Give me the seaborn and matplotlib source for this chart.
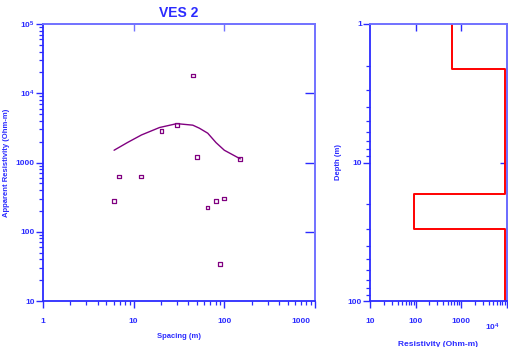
import matplotlib
matplotlib.use("Agg")
import matplotlib.pyplot as plt
import matplotlib.ticker as mticker
import matplotlib.transforms as mtrans
import seaborn as sns
import numpy as np

# ---- data ----
spacing = [6.08, 6.89, 12.0, 20.2, 29.9, 44.9, 50.1, 65.0, 80.3, 89.7, 100.0, 150.0]
app_res = [279, 626, 626, 2857, 3491, 17950, 1191, 223, 279, 34, 301, 1128]

model_spacing = [6.08, 8.5, 12.2, 19.3, 29.9, 44.9, 53.1, 65.6, 81.0, 100.0, 150.0]
model_res = [1503, 1936, 2500, 3200, 3640, 3460, 3126, 2650, 1936, 1503, 1128]

layer_res = [630, 9000, 93, 9000]
layer_bounds = [1.0, 2.12, 16.9, 30.4, 100.0]

left_xticks = [1, 10, 100, 1000]
left_yticks = [10, 100, 1000, 1e4, 1e5]
right_xticks = [10, 100, 1000, 1e4]
right_yticks = [1, 10, 100]

sns.set_theme(style="white")
plt.rcParams['font.family'] = ['Liberation Sans', 'DejaVu Sans']
plt.rcParams['mathtext.fontset'] = 'custom'
plt.rcParams['mathtext.rm'] = 'Liberation Sans:bold'
plt.rcParams['mathtext.bf'] = 'Liberation Sans:bold'

BLUE = '#2b2bff'
LBLUE = '#7373ff'
PURPLE = '#800080'

fig = plt.figure(figsize=(5.08, 3.47), dpi=100)
W, H = 508, 347
ax1 = fig.add_axes([43 / W, 1 - 301 / H, 272 / W, 277 / H])
ax2 = fig.add_axes([370.3 / W, 1 - 301 / H, 136.4 / W, 277 / H])


def fmt_pow(v, pos=None):
    if v >= 1e4:
        e = int(round(np.log10(v)))
        return r"$\mathbf{10^{%d}}$" % e
    return "%d" % v


def style_axes(ax):
    for s in ['left', 'bottom']:
        ax.spines[s].set_color(BLUE)
        ax.spines[s].set_linewidth(1.3)
    for s in ['top', 'right']:
        ax.spines[s].set_color(LBLUE)
        ax.spines[s].set_linewidth(1.3)
    ax.tick_params(which='major', direction='out', length=5, width=1.0,
                   color=BLUE, labelcolor=BLUE, labelsize=6, left=True, bottom=True)
    ax.tick_params(which='minor', direction='out', length=2.8, width=0.9,
                   color=BLUE, left=True, bottom=True)
    ax.tick_params(axis='x', which='major', pad=7)
    ax.tick_params(axis='y', which='major', pad=1)
    for lab in ax.get_xticklabels() + ax.get_yticklabels():
        lab.set_fontweight('bold')
    ax.grid(False)


def shift_label(ax, idx, dx, dy):
    labs = ax.get_xticklabels()
    lab = labs[idx]
    lab.set_transform(lab.get_transform() +
                      mtrans.ScaledTranslation(dx / 100, dy / 100, fig.dpi_scale_trans))


# ---- left: sounding curve ----
sns.lineplot(x=model_spacing, y=model_res, ax=ax1, color=PURPLE, lw=1.0,
             sort=False, estimator=None)
sns.scatterplot(x=spacing, y=app_res, ax=ax1, marker='s', s=7,
                facecolor='none', edgecolor=PURPLE, linewidth=0.9, zorder=3)
ax1.set_xscale('log')
ax1.set_yscale('log')
ax1.set_xlim(1, 1000)
ax1.set_ylim(10, 1e5)
ax1.set_xticks(left_xticks)
ax1.set_yticks(left_yticks)
ax1.xaxis.set_major_formatter(mticker.FuncFormatter(fmt_pow))
ax1.yaxis.set_major_formatter(mticker.FuncFormatter(fmt_pow))
ax1.xaxis.set_minor_locator(mticker.LogLocator(base=10, subs=np.arange(2, 10)))
ax1.yaxis.set_minor_locator(mticker.LogLocator(base=10, subs=np.arange(2, 10)))
ax1.xaxis.set_minor_formatter(mticker.NullFormatter())
ax1.yaxis.set_minor_formatter(mticker.NullFormatter())
style_axes(ax1)
ax1.set_xlabel('Spacing (m)', fontsize=5.5, fontweight='bold', color=BLUE, labelpad=6)
ax1.set_ylabel('Apparent Resistivity (Ohm-m)', fontsize=5.5, fontweight='bold',
               color=BLUE, labelpad=4)
ax1.set_title('VES 2', fontsize=10, fontweight='bold', color=BLUE, pad=5)

sx = ax1.secondary_xaxis('top')
sx.set_xticks([10, 100])
sx.xaxis.set_minor_locator(mticker.NullLocator())
sx.tick_params(direction='in', length=5, color=LBLUE, labeltop=False, width=1.0)
sx.spines['top'].set_color(LBLUE)
sy = ax1.secondary_yaxis('right')
sy.set_yticks([100, 1000, 1e4])
sy.yaxis.set_minor_locator(mticker.NullLocator())
sy.tick_params(direction='in', length=7, color=BLUE, labelright=False, width=1.0)
sy.spines['right'].set_color(LBLUE)

# ---- right: layered model ----
xs, ys = [], []
for i, r in enumerate(layer_res):
    xs += [r, r]
    ys += [layer_bounds[i], layer_bounds[i + 1]]
sns.lineplot(x=xs, y=ys, ax=ax2, color='#ff0000', lw=1.4, sort=False, estimator=None)
ax2.set_xscale('log')
ax2.set_yscale('log')
ax2.set_xlim(10, 1e4)
ax2.set_ylim(100, 1)
ax2.set_xticks(right_xticks)
ax2.set_yticks(right_yticks)
ax2.xaxis.set_major_formatter(mticker.FuncFormatter(fmt_pow))
ax2.yaxis.set_major_formatter(mticker.FuncFormatter(fmt_pow))
ax2.xaxis.set_minor_locator(mticker.LogLocator(base=10, subs=np.arange(2, 10)))
ax2.yaxis.set_minor_locator(mticker.LogLocator(base=10, subs=np.arange(2, 10)))
ax2.xaxis.set_minor_formatter(mticker.NullFormatter())
ax2.yaxis.set_minor_formatter(mticker.NullFormatter())
style_axes(ax2)
ax2.set_xlabel('Resistivity (Ohm-m)', fontsize=6, fontweight='bold', color=BLUE, labelpad=6)
ax2.set_ylabel('Depth (m)', fontsize=5.5, fontweight='bold', color=BLUE, labelpad=4)

sx2 = ax2.secondary_xaxis('top')
sx2.set_xticks([100, 1000])
sx2.xaxis.set_minor_locator(mticker.NullLocator())
sx2.tick_params(direction='in', length=5, color=BLUE, labeltop=False, width=1.0)
sx2.spines['top'].set_color(LBLUE)
sy2 = ax2.secondary_yaxis('right')
sy2.set_yticks([10])
sy2.yaxis.set_minor_locator(mticker.NullLocator())
sy2.tick_params(direction='in', length=5, color=BLUE, labelright=False, width=1.0)
sy2.spines['right'].set_color(BLUE)

# shift last labels inward like the reference
shift_label(ax1, 3, -14, 0)
shift_label(ax2, 3, -14, -4)

fig.savefig('out.png', dpi=100)
